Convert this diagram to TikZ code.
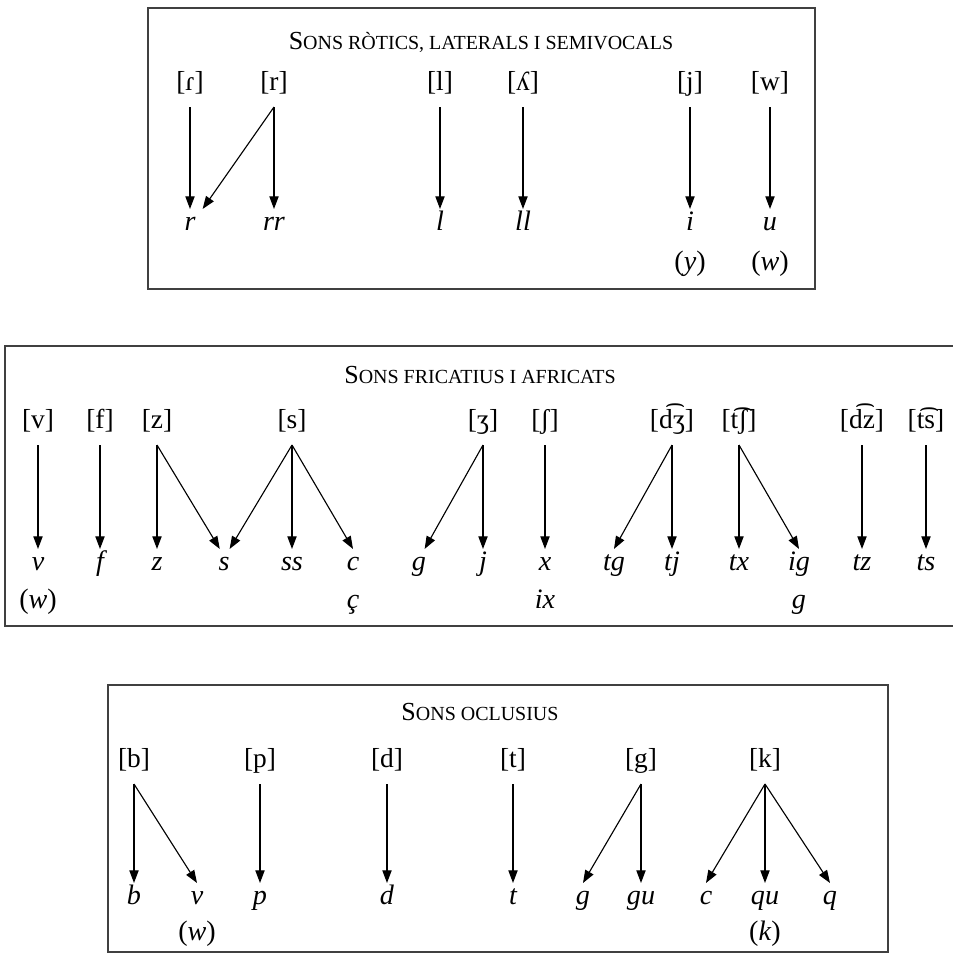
\documentclass[tikz,border=0pt]{standalone}
\usepackage{fontspec}
\setmainfont{Liberation Serif}
\usetikzlibrary{arrows.meta}

% title in small capitals
\newcommand\ttl[2]{{\fontsize{18.5}{22}\selectfont #1{\fontsize{14.2}{17}\selectfont #2}}}

\begin{document}
\begin{tikzpicture}[x=0.025cm,y=-0.025cm,
	snd/.style={font=\fontsize{19.5}{22}\selectfont, inner sep=0pt, text height=13pt, text depth=4.5pt, outer ysep=6.9pt},
	grf/.style={font=\fontsize{20}{22}\selectfont\itshape, inner sep=0pt, text height=12pt, text depth=4pt, outer ysep=3.4pt},
	arr/.style={-{Triangle[length=9pt,width=6.6pt]}, line width=0.8pt},
	frame/.style={draw=black!75, line width=0.9pt}]
	\useasboundingbox (0,0) rectangle (953,961);
	\clip (0,0) rectangle (953,961);

	% Rotics, laterals and semivowels
	\draw[frame] (148,8) rectangle (815,289);
	\node (t1) at (481,42) {\ttl{S}{ONS RÒTICS, LATERALS I SEMIVOCALS}};
	\node[snd] (flap) at (190,85) {[ɾ]};
	\node[snd] (trill) at (274,85) {[r]};
	\node[snd] (lat) at (440,85) {[l]};
	\node[snd] (pal) at (523,85) {[ʎ]};
	\node[snd] (yod) at (690,85) {[j]};
	\node[snd] (wau) at (770,85) {[w]};
	\node[grf] (r) at (190,225) {r};
	\node[grf] (rr) at (274,225) {rr};
	\node[grf] (l) at (440,225) {l};
	\node[grf] (ll) at (523,225) {ll};
	\node[grf] (i) at (690,225) {i};
	\node[grf] (u) at (770,225) {u};
	\node[grf] (y) at (690,265) {\textup{(}y\textup{)}};
	\node[grf] (w) at (770,265) {\textup{(}w\textup{)}};
	\draw[arr] (flap.south) -- (r.north);
	\draw[arr] (trill.south) -- ([xshift=9pt]r.north);
	\draw[arr] (trill.south) -- (rr.north);
	\draw[arr] (lat.south) -- (l.north);
	\draw[arr] (pal.south) -- (ll.north);
	\draw[arr] (yod.south) -- (i.north);
	\draw[arr] (wau.south) -- (u.north);

	% Fricatives and affricates
	\draw[frame] (5,346) rectangle (990,626);
	\node (t2) at (480,375) {\ttl{S}{ONS FRICATIUS I AFRICATS}};
	\node[snd] (fv) at (38,423) {[v]};
	\node[snd] (ff) at (100,423) {[f]};
	\node[snd] (fz) at (157,423) {[z]};
	\node[snd] (fs) at (292,423) {[s]};
	\node[snd] (fzh) at (483,423) {[ʒ]};
	\node[snd] (fsh) at (545,423) {[ʃ]};
	\node[snd] (fdzh) at (672,423) {[d͡ʒ]};
	\node[snd] (ftsh) at (739,423) {[t͡ʃ]};
	\node[snd] (fdz) at (862,423) {[d͡z]};
	\node[snd] (fts) at (926,423) {[t͡s]};
	\node[grf] (v) at (38,565) {v};
	\node[grf] (f) at (100,565) {f};
	\node[grf] (z) at (157,565) {z};
	\node[grf] (s) at (224,565) {s};
	\node[grf] (ss) at (292,565) {ss};
	\node[grf] (c) at (353,565) {c};
	\node[grf] (g) at (419,565) {g};
	\node[grf] (j) at (483,565) {j};
	\node[grf] (x) at (545,565) {x};
	\node[grf] (tg) at (614,565) {tg};
	\node[grf] (tj) at (672,565) {tj};
	\node[grf] (tx) at (739,565) {tx};
	\node[grf] (ig) at (799,565) {ig};
	\node[grf] (tz) at (862,565) {tz};
	\node[grf] (ts) at (926,565) {ts};
	\node[grf] (wv) at (38,603) {\textup{(}w\textup{)}};
	\node[grf] (cc) at (353,603) {ç};
	\node[grf] (ix) at (545,603) {ix};
	\node[grf] (gg) at (799,603) {g};
	\draw[arr] (fv.south) -- (v.north);
	\draw[arr] (ff.south) -- (f.north);
	\draw[arr] (fz.south) -- (z.north);
	\draw[arr] (fz.south) -- ([xshift=-3pt]s.north);
	\draw[arr] (fs.south) -- ([xshift=4pt]s.north);
	\draw[arr] (fs.south) -- (ss.north);
	\draw[arr] (fs.south) -- (c.north);
	\draw[arr] (fzh.south) -- ([xshift=4pt]g.north);
	\draw[arr] (fzh.south) -- (j.north);
	\draw[arr] (fsh.south) -- (x.north);
	\draw[arr] (fdzh.south) -- (tg.north);
	\draw[arr] (fdzh.south) -- (tj.north);
	\draw[arr] (ftsh.south) -- (tx.north);
	\draw[arr] (ftsh.south) -- (ig.north);
	\draw[arr] (fdz.south) -- (tz.north);
	\draw[arr] (fts.south) -- (ts.north);

	% Stops
	\draw[frame] (108,685) rectangle (888,952);
	\node (t3) at (480,712) {\ttl{S}{ONS OCLUSIUS}};
	\node[snd] (ob) at (134,762) {[b]};
	\node[snd] (op) at (260,762) {[p]};
	\node[snd] (od) at (387,762) {[d]};
	\node[snd] (ot) at (513,762) {[t]};
	\node[snd] (og) at (641,762) {[g]};
	\node[snd] (ok) at (765,762) {[k]};
	\node[grf] (b) at (134,899) {b};
	\node[grf] (vb) at (197,899) {v};
	\node[grf] (p) at (260,899) {p};
	\node[grf] (d) at (387,899) {d};
	\node[grf] (t) at (513,899) {t};
	\node[grf] (go) at (583,899) {g};
	\node[grf] (gu) at (641,899) {gu};
	\node[grf] (co) at (706,899) {c};
	\node[grf] (qu) at (765,899) {qu};
	\node[grf] (q) at (830,899) {q};
	\node[grf] (wb) at (197,935) {\textup{(}w\textup{)}};
	\node[grf] (k) at (765,935) {\textup{(}k\textup{)}};
	\draw[arr] (ob.south) -- (b.north);
	\draw[arr] (ob.south) -- (vb.north);
	\draw[arr] (op.south) -- (p.north);
	\draw[arr] (od.south) -- (d.north);
	\draw[arr] (ot.south) -- (t.north);
	\draw[arr] (og.south) -- (go.north);
	\draw[arr] (og.south) -- (gu.north);
	\draw[arr] (ok.south) -- (co.north);
	\draw[arr] (ok.south) -- (qu.north);
	\draw[arr] (ok.south) -- (q.north);
\end{tikzpicture}
\end{document}
